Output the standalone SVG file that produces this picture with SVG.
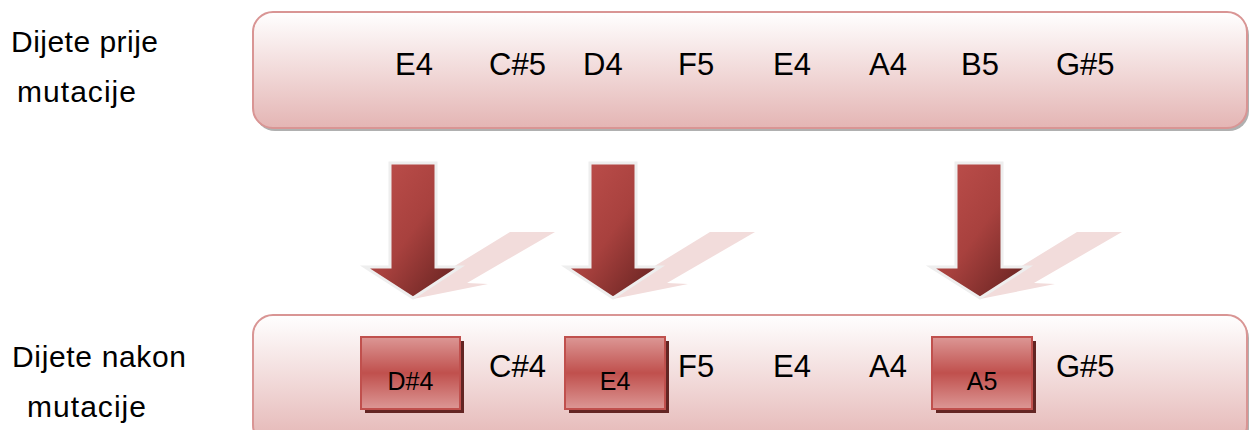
<svg xmlns="http://www.w3.org/2000/svg" width="1251" height="430" viewBox="0 0 1251 430">
  <defs>
    <linearGradient id="bandFill" x1="0" y1="0" x2="0" y2="1">
      <stop offset="0" stop-color="#ffffff"/>
      <stop offset="1" stop-color="#e4b5b4"/>
    </linearGradient>
    <linearGradient id="arrowFill" x1="0" y1="0" x2="1" y2="1">
      <stop offset="0" stop-color="#c0504d"/>
      <stop offset="0.5" stop-color="#a8413e"/>
      <stop offset="1" stop-color="#5e1f1d"/>
    </linearGradient>
    <linearGradient id="geneFill" x1="0" y1="0" x2="0" y2="1">
      <stop offset="0" stop-color="#dc9795"/>
      <stop offset="0.5" stop-color="#c0504d"/>
      <stop offset="1" stop-color="#dc9795"/>
    </linearGradient>
    <style>
      .label { font-family: "Liberation Sans", Arial, sans-serif; font-size: 30px; fill: #000; }
      .note { font-family: "Liberation Sans", Arial, sans-serif; font-size: 31px; fill: #000; }
      .gene-text { font-family: "Liberation Sans", Arial, sans-serif; font-size: 25px; fill: #000; text-anchor: middle; }
      .band { fill: url(#bandFill); stroke: #d99594; stroke-width: 2; }
      .band-shadow { fill: #b0b0b0; }
      .arrow { fill: url(#arrowFill); stroke: #eeeeee; stroke-width: 3; stroke-linejoin: miter; }
      .bolt { fill: #f2dcdb; }
      .gene { fill: url(#geneFill); stroke: #c0504d; stroke-width: 2; }
      .gene-shadow { fill: #632523; }
    </style>
  </defs>

  <!-- row labels -->
  <g id="label-before">
    <text class="label" x="11" y="52" textLength="147" lengthAdjust="spacing">Dijete prije</text>
    <text class="label" x="17" y="102" textLength="119" lengthAdjust="spacing">mutacije</text>
  </g>
  <g id="label-after">
    <text class="label" x="12" y="367" textLength="174" lengthAdjust="spacing">Dijete nakon</text>
    <text class="label" x="27" y="417" textLength="119" lengthAdjust="spacing">mutacije</text>
  </g>

  <!-- chromosome before mutation -->
  <g id="band-before">
    <rect class="band-shadow" x="255" y="15" width="994" height="116" rx="20"/>
    <rect class="band" x="253" y="12" width="994" height="116" rx="20"/>
    <text class="note" x="395" y="75">E4</text>
    <text class="note" x="489" y="75">C#5</text>
    <text class="note" x="583" y="75">D4</text>
    <text class="note" x="678" y="75">F5</text>
    <text class="note" x="773" y="75">E4</text>
    <text class="note" x="869" y="75">A4</text>
    <text class="note" x="961" y="75">B5</text>
    <text class="note" x="1056" y="75">G#5</text>
  </g>

  <!-- mutation arrows -->
  <g id="connectors">
    <polygon class="bolt" points="510,232 555,232 467,283 488,284 413,299 440,275"/>
    <polygon class="arrow" points="390,163 436,163 436,267 460,267 413,298 365,267 390,267"/>
    <polygon class="bolt" points="710,232 755,232 667,283 688,284 613,299 640,275"/>
    <polygon class="arrow" points="590,163 636,163 636,267 660,267 613,298 566,267 590,267"/>
    <polygon class="bolt" points="1077,232 1122,232 1034,283 1055,284 980,299 1007,275"/>
    <polygon class="arrow" points="956,163 1002,163 1002,267 1028,267 980,298 931,267 956,267"/>
  </g>

  <!-- chromosome after mutation -->
  <g id="band-after">
    <rect class="band-shadow" x="255" y="318" width="994" height="130" rx="20"/>
    <rect class="band" x="253" y="315" width="994" height="130" rx="20"/>
    <text class="note" x="489" y="377">C#4</text>
    <text class="note" x="678" y="377">F5</text>
    <text class="note" x="773" y="377">E4</text>
    <text class="note" x="869" y="377">A4</text>
    <text class="note" x="1056" y="377">G#5</text>
  </g>

  <g id="gene-d4">
    <rect class="gene-shadow" x="365" y="341" width="99" height="72"/>
    <rect class="gene" x="361" y="337" width="99" height="72"/>
    <text class="gene-text" x="410.5" y="390">D#4</text>
  </g>
  <g id="gene-e4">
    <rect class="gene-shadow" x="569" y="341" width="100" height="72"/>
    <rect class="gene" x="565" y="337" width="100" height="72"/>
    <text class="gene-text" x="615" y="390">E4</text>
  </g>
  <g id="gene-a5">
    <rect class="gene-shadow" x="936" y="341" width="100" height="72"/>
    <rect class="gene" x="932" y="337" width="100" height="72"/>
    <text class="gene-text" x="982" y="390">A5</text>
  </g>
</svg>
